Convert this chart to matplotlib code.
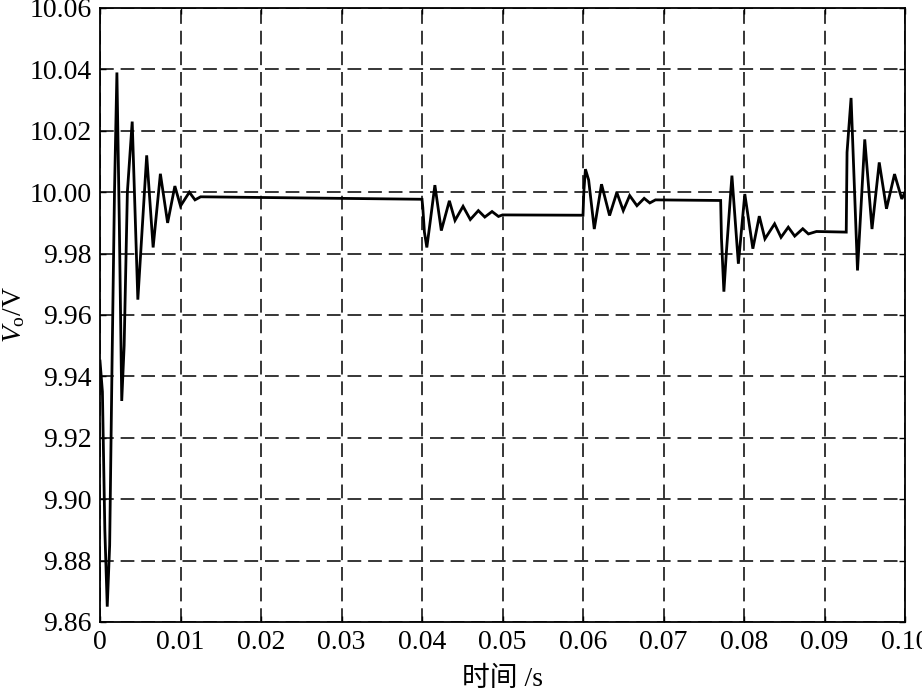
import matplotlib
matplotlib.use("Agg")
import matplotlib.pyplot as plt

plt.rcParams['font.family'] = ['Liberation Serif', 'Noto Sans CJK SC', 'DejaVu Sans']
plt.rcParams['mathtext.fontset'] = 'custom'
plt.rcParams['mathtext.rm'] = 'Liberation Serif'
plt.rcParams['mathtext.it'] = 'Liberation Serif:italic'

# Output voltage waveform (time in s, voltage in V)
time_s = [
    0.0000, 0.0003, 0.0006, 0.0009, 0.0012, 0.0015, 0.0018, 0.0021, 0.0024, 0.0027,
    0.0030, 0.0034, 0.0040, 0.0047, 0.0058, 0.0066, 0.0075, 0.0084, 0.0093, 0.0100,
    0.0111, 0.0118, 0.0125, 0.0400,
    0.0401, 0.0403, 0.0406, 0.0410, 0.0416, 0.0424, 0.0434, 0.0441, 0.0451, 0.0460,
    0.0470, 0.0478, 0.0487, 0.0495, 0.0500, 0.0600,
    0.0601, 0.0603, 0.0607, 0.0614, 0.0623, 0.0633, 0.0642, 0.0650, 0.0658, 0.0667,
    0.0676, 0.0683, 0.0690, 0.0771,
    0.0772, 0.0775, 0.0778, 0.0785, 0.0793, 0.0801, 0.0811, 0.0819, 0.0826, 0.0838,
    0.0846, 0.0855, 0.0863, 0.0873, 0.0880, 0.0890, 0.0927,
    0.0928, 0.0933, 0.0941, 0.0950, 0.0959, 0.0968, 0.0977, 0.0987, 0.0996, 0.1000,
]
voltage_v = [
    9.945, 9.935, 9.890, 9.865, 9.885, 9.945, 10.000, 10.039, 9.990, 9.932,
    9.950, 10.000, 10.023, 9.965, 10.012, 9.982, 10.006, 9.990, 10.002, 9.9955,
    10.000, 9.9975, 9.9985, 9.9977,
    9.995, 9.987, 9.982, 9.990, 10.0023, 9.9875, 9.9972, 9.9908, 9.9954, 9.9911,
    9.994, 9.9919, 9.9937, 9.9921, 9.9926, 9.9925,
    10.000, 10.0075, 10.004, 9.988, 10.0026, 9.9924, 9.9999, 9.994, 9.9989, 9.9956,
    9.998, 9.9965, 9.9975, 9.9973,
    9.985, 9.9676, 9.980, 10.0054, 9.9767, 9.9994, 9.9816, 9.9922, 9.9848, 9.9897,
    9.9853, 9.9886, 9.9857, 9.9881, 9.9864, 9.9872, 9.9870,
    10.013, 10.0307, 9.9745, 10.0172, 9.988, 10.0097, 9.9946, 10.0059, 9.9978, 10.000,
]

x_ticks = [0, 0.01, 0.02, 0.03, 0.04, 0.05, 0.06, 0.07, 0.08, 0.09, 0.10]
x_tick_labels = ['0', '0.01', '0.02', '0.03', '0.04', '0.05', '0.06', '0.07', '0.08', '0.09', '0.10']
y_ticks = [9.86, 9.88, 9.90, 9.92, 9.94, 9.96, 9.98, 10.00, 10.02, 10.04, 10.06]
y_tick_labels = ['9.86', '9.88', '9.90', '9.92', '9.94', '9.96', '9.98', '10.00', '10.02', '10.04', '10.06']

fig = plt.figure(figsize=(9.22, 6.97), dpi=100)
ax = fig.add_axes([100 / 922, 1 - 622 / 697, 805 / 922, 614 / 697])

ax.plot(time_s, voltage_v, color='black', lw=2.0, zorder=3, solid_joinstyle='miter')

ax.set_xlim(0, 0.10)
ax.set_ylim(9.86, 10.06)
ax.set_xticks(x_ticks)
ax.set_xticklabels(x_tick_labels)
ax.set_yticks(y_ticks)
ax.set_yticklabels(y_tick_labels)

ax.grid(True, color='black', linestyle=(0, (9, 4.5)), lw=1.1)
ax.tick_params(direction='in', length=4, width=1, top=True, right=True,
               labelsize=20, pad=6, colors='black')
for s in ax.spines.values():
    s.set_linewidth(1.3)
    s.set_color('black')

ax.set_xlabel('时间 /s', fontsize=20, labelpad=8)
ax.set_ylabel(r'$V_{\mathrm{o}}$/V', fontsize=20, labelpad=2)

fig.savefig('out.png', dpi=100)
